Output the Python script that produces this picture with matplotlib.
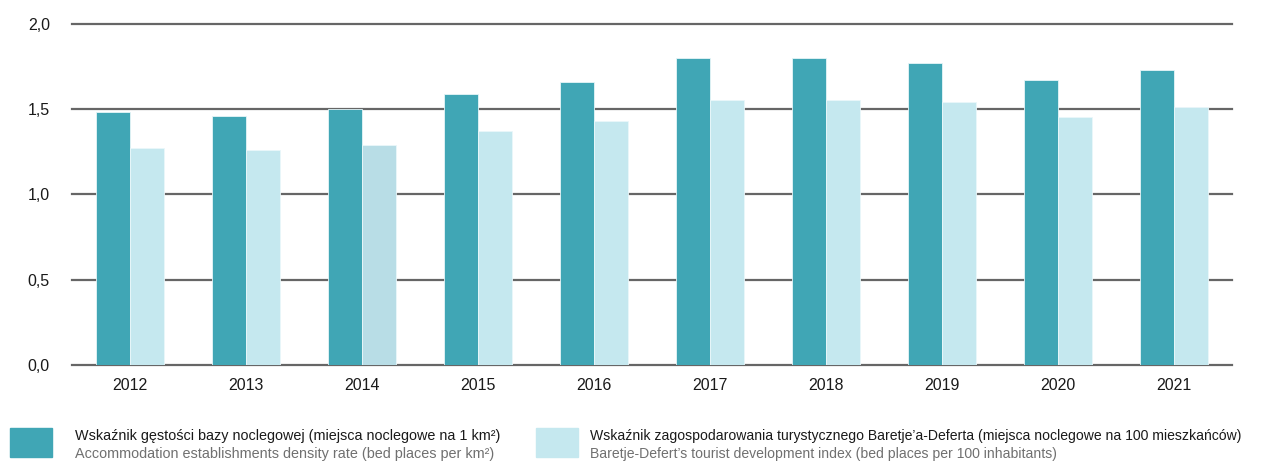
import matplotlib.pyplot as plt
from matplotlib.patches import Rectangle

years = ["2012", "2013", "2014", "2015", "2016", "2017", "2018", "2019", "2020", "2021"]
density = [1.48, 1.46, 1.50, 1.59, 1.66, 1.80, 1.80, 1.77, 1.67, 1.73]
baretje = [1.27, 1.26, 1.29, 1.37, 1.43, 1.55, 1.55, 1.54, 1.45, 1.51]

yticks = [0.0, 0.5, 1.0, 1.5, 2.0]
ytick_labels = ["0,0", "0,5", "1,0", "1,5", "2,0"]

label_pl_1 = "Wskaźnik gęstości bazy noclegowej (miejsca noclegowe na 1 km²)"
label_en_1 = "Accommodation establishments density rate (bed places per km²)"
label_pl_2 = "Wskaźnik zagospodarowania turystycznego Baretje’a-Deferta (miejsca noclegowe na 100 mieszkańców)"
label_en_2 = "Baretje-Defert’s tourist development index (bed places per 100 inhabitants)"

dark = "#40a6b5"
light = "#c5e8ef"
light_hl = "#b8dde6"  # 2014 bar is a bit darker in the original

plt.rcParams["font.family"] = ["Liberation Sans", "DejaVu Sans"]

fig = plt.figure(figsize=(12.67, 4.63), dpi=100)
ax = fig.add_axes([72 / 1267, 98 / 463, 1160 / 1267, 341.5 / 463])

x = list(range(len(years)))
w = 0.289
light_colors = [light_hl if y == "2014" else light for y in years]
ax.bar([i - w / 2 for i in x], density, width=w, color=dark,
       edgecolor="#e6f5f8", linewidth=0.6, zorder=3)
ax.bar([i + w / 2 for i in x], baretje, width=w, color=light_colors,
       edgecolor="#eaf7fa", linewidth=0.6, zorder=3)

ax.set_xlim(-0.5, len(years) - 0.5)
ax.set_ylim(0, 2.0)
ax.set_yticks(yticks)
ax.set_yticklabels(ytick_labels)
ax.set_xticks(x)
ax.set_xticklabels(years)
ax.tick_params(axis="both", length=0, labelsize=11.5, colors="#1a1a1a")
ax.tick_params(axis="y", pad=16)
ax.tick_params(axis="x", pad=9)
for s in ax.spines.values():
    s.set_visible(False)
ax.yaxis.grid(True, color="#666666", linewidth=1.6, zorder=0)
ax.set_axisbelow(True)
for gl in ax.get_ygridlines():
    gl.set_clip_on(False)

# legend drawn by hand at the bottom
fig.patches.append(Rectangle((10 / 1267, (463 - 457) / 463), 42 / 1267, 29 / 463,
                             transform=fig.transFigure, color=dark))
fig.patches.append(Rectangle((536 / 1267, (463 - 457) / 463), 42 / 1267, 29 / 463,
                             transform=fig.transFigure, color=light))
fs = 10.4
fs2 = 10.1
fig.text(75 / 1267, (463 - 436) / 463, label_pl_1, fontsize=fs, color="#1a1a1a", va="center")
fig.text(75 / 1267, (463 - 454) / 463, label_en_1, fontsize=fs, color="#707070", va="center")
fig.text(590 / 1267, (463 - 436) / 463, label_pl_2, fontsize=fs2, color="#1a1a1a", va="center")
fig.text(590 / 1267, (463 - 454) / 463, label_en_2, fontsize=fs2, color="#707070", va="center")

plt.savefig("out.png", dpi=100)
plt.close()
